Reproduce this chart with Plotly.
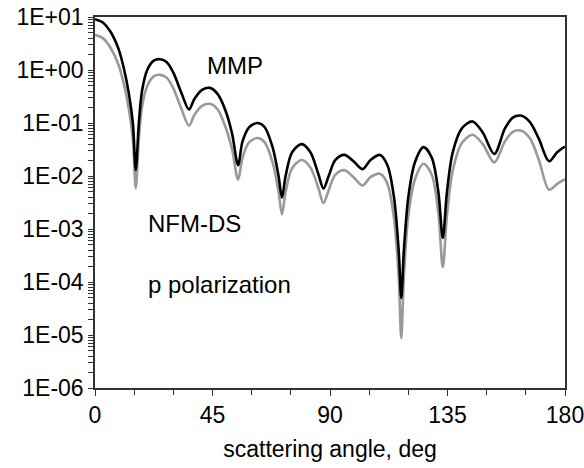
import plotly.graph_objects as go

# scattering angle (deg)
angle = [0, 3, 6, 9, 11, 13, 14.5, 15.6, 16.8, 18, 20, 22.5, 25, 27.5, 30, 33, 36, 38, 41, 44,
         47, 50, 52.5, 54.8, 56.5, 59, 62.4, 65, 68, 70.3, 71.6, 73, 75.5, 79.2, 82.5, 85.5, 87.5,
         89.5, 92, 95.5, 99, 102.5, 105.5, 109.2, 112, 114.5, 116.3, 117.3, 118.3, 120, 122.5,
         125.8, 129, 131.5, 133.2, 134.8, 137, 140.5, 144.6, 148.5, 152.9, 157, 160, 163, 166.5,
         170, 173.9, 177, 180]

mmp = [9.1, 7.9, 5.2, 2.5, 1.1, 0.35, 0.10, 0.013, 0.10, 0.40, 1.0, 1.5, 1.6, 1.4, 0.89, 0.38,
       0.18, 0.28, 0.42, 0.46, 0.35, 0.17, 0.063, 0.016, 0.045, 0.083, 0.10, 0.083, 0.035, 0.010,
       0.0039, 0.010, 0.028, 0.040, 0.028, 0.011, 0.0058, 0.010, 0.020, 0.025, 0.019, 0.0135,
       0.020, 0.025, 0.016, 0.0040, 4.0e-4, 5.0e-5, 4.0e-4, 0.0040, 0.018, 0.035, 0.022, 0.0050,
       6.8e-4, 0.0050, 0.028, 0.079, 0.107, 0.066, 0.026, 0.079, 0.126, 0.138, 0.105, 0.050,
       0.019, 0.028, 0.036]

nfmds = [4.6, 4.0, 2.6, 1.26, 0.56, 0.18, 0.050, 0.0059, 0.050, 0.20, 0.50, 0.76, 0.81, 0.71,
         0.45, 0.19, 0.089, 0.14, 0.21, 0.23, 0.18, 0.083, 0.032, 0.0085, 0.022, 0.043, 0.052,
         0.043, 0.018, 0.0050, 0.0019, 0.0050, 0.014, 0.020, 0.0145, 0.0060, 0.0031, 0.0054,
         0.0105, 0.0129, 0.0095, 0.0066, 0.0095, 0.011, 0.0071, 0.0016, 1.26e-4, 8.7e-6, 1.26e-4,
         0.0018, 0.0085, 0.017, 0.0105, 0.0020, 1.9e-4, 0.0018, 0.0126, 0.042, 0.060, 0.040,
         0.018, 0.045, 0.068, 0.072, 0.052, 0.020, 0.0055, 0.0071, 0.0087]

x_ticks = [0, 45, 90, 135, 180]
y_decades = [1e-6, 1e-5, 1e-4, 1e-3, 1e-2, 1e-1, 1e0, 1e1]
y_labels = ["1E-06", "1E-05", "1E-04", "1E-03", "1E-02", "1E-01", "1E+00", "1E+01"]

y_tickvals, y_ticktext = [], []
for d, lab in zip(y_decades, y_labels):
    y_tickvals.append(d)
    y_ticktext.append(lab)
    if d < 10:
        for m in range(2, 10):
            y_tickvals.append(d * m)
            y_ticktext.append("")

FONT = "Liberation Sans, Arial, sans-serif"
FT = 23   # tick labels and axis title
FA = 24   # in-plot texts

fig = go.Figure()
fig.add_trace(go.Scatter(x=angle, y=nfmds, mode="lines", name="NFM-DS",
                         line=dict(color="#999999", width=2.6, shape="spline", smoothing=0.9)))
fig.add_trace(go.Scatter(x=angle, y=mmp, mode="lines", name="MMP",
                         line=dict(color="#000000", width=2.6, shape="spline", smoothing=0.9)))

fig.update_layout(
    width=584, height=468,
    margin=dict(l=95, r=19, t=17, b=80, autoexpand=False),
    paper_bgcolor="white", plot_bgcolor="white",
    showlegend=False,
    font=dict(family=FONT, size=FT, color="black"),
    xaxis=dict(range=[0, 180], tickvals=x_ticks, ticks="outside", ticklen=6, tickwidth=1.2,
               tickcolor="#333", showline=True, linecolor="#333", linewidth=1.5, mirror=True,
               showgrid=False, zeroline=False, ticklabeloverflow="allow", automargin=True,
               minor=dict(dtick=15, tick0=0, ticks="outside", ticklen=5, tickcolor="#333", showgrid=False),
               title=dict(text="scattering angle, deg", font=dict(size=FT), standoff=14),
               tickfont=dict(size=FT)),
    yaxis=dict(type="log", range=[-6, 1], tickvals=y_tickvals, ticktext=y_ticktext,
               ticks="outside", ticklen=5, tickwidth=1.2, tickcolor="#333", automargin=True,
               showline=True, linecolor="#333", linewidth=1.5, mirror=True,
               showgrid=False, zeroline=False, tickfont=dict(size=FT), ticklabeloverflow="allow"),
)

fig.add_annotation(x=53.5, y=0.08, xref="x", yref="y", text="MMP", showarrow=False,
                   font=dict(size=FA))
fig.add_annotation(x=38, y=-2.9, xref="x", yref="y", text="NFM-DS", showarrow=False,
                   font=dict(size=FA))
fig.add_annotation(x=47.5, y=-4.05, xref="x", yref="y", text="p polarization", showarrow=False,
                   font=dict(size=FA))

fig.write_html("out.html", config={"displayModeBar": False},
               post_script="document.body.style.margin='0';document.body.style.padding='0';")
